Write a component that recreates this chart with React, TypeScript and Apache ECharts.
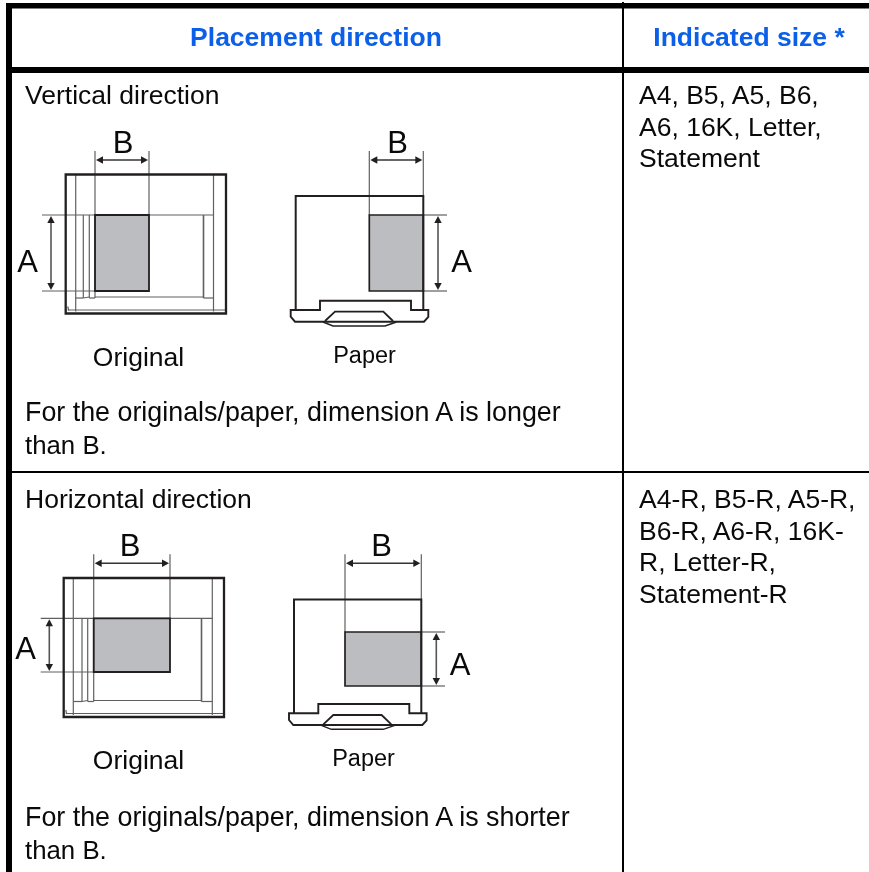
import React, { useEffect, useRef } from "react";
import * as echarts from "echarts";

const headers = ["Placement direction", "Indicated size *"];
const directionTitles = ["Vertical direction", "Horizontal direction"];
const noteLines = [
  ["For the originals/paper, dimension A is longer", "than B."],
  ["For the originals/paper, dimension A is shorter", "than B."],
];
const sizeLines = [
  ["A4, B5, A5, B6,", "A6, 16K, Letter,", "Statement"],
  ["A4-R, B5-R, A5-R,", "B6-R, A6-R, 16K-", "R, Letter-R,", "Statement-R"],
];
const figureLabels = ["Original", "Paper"];

const INK = "#231f20";
const THIN = "#5f6062";
const GREY = "#bcbdc0";
const FONT = "Liberation Sans";
const BODY = 26.5;
const NOTE = 26.85;
const NOTE_END = 25.8;
const LETTER = 31;

const line = (x1: number, y1: number, x2: number, y2: number, stroke = THIN, lineWidth = 1.2) => ({
  type: "line", silent: true,
  shape: { x1, y1, x2, y2 },
  style: { stroke, lineWidth, fill: "none" },
});
const rect = (x: number, y: number, width: number, height: number, fill: string, stroke?: string, lineWidth = 0) => ({
  type: "rect", silent: true,
  shape: { x, y, width, height },
  style: { fill, stroke: stroke || "none", lineWidth },
});
const poly = (points: number[][], stroke = INK, lineWidth = 1.7) => ({
  type: "polyline", silent: true,
  shape: { points },
  style: { stroke, lineWidth, fill: "none" },
});
const tri = (points: number[][]) => ({
  type: "polygon", silent: true, shape: { points }, style: { fill: INK, stroke: "none" },
});
const text = (t: string, x: number, y: number, size: number, opts: any = {}) => ({
  type: "text", silent: true, x, y,
  style: {
    text: t, fontFamily: FONT, fontSize: size,
    fontWeight: opts.bold ? "bold" : "normal",
    fill: opts.fill || "#0a0a0a",
    align: opts.align || "left", verticalAlign: "middle",
  },
});
const hArrow = (x1: number, x2: number, y: number) => [
  line(x1 + 3, y, x2 - 3, y, "#333333", 1.5),
  tri([[x1, y], [x1 + 7, y - 3.7], [x1 + 7, y + 3.7]]),
  tri([[x2, y], [x2 - 7, y - 3.7], [x2 - 7, y + 3.7]]),
];
const vArrow = (x: number, y1: number, y2: number) => [
  line(x, y1 + 3, x, y2 - 3, "#555555", 1.6),
  tri([[x, y1], [x - 3.7, y1 + 7], [x + 3.7, y1 + 7]]),
  tri([[x, y2], [x - 3.7, y2 - 7], [x + 3.7, y2 - 7]]),
];

function originalFigure(f: any) {
  const { l, r, t, b, gl, gr, gt, gb, ax, extLeft, rails, railR, inner, lineTop, arrowY, inL, inR, inB, aX, aY, bX, bY } = f;
  return [
    rect(gl, gt, gr - gl, gb - gt, GREY),
    line(inL, t, inL, b - 2),
    line(inR, t, inR, b - 2),
    line(l + 2, inB, r, inB),
    line(l + 2, b - 7, l + 3, b - 3),
    line(extLeft, gt, inR, gt),
    line(extLeft, gb, gl, gb),
    line(gl, lineTop, gl, gt),
    line(gr, lineTop, gr, gt),
    ...rails.map((x: number) => line(x, gt, x, inner + 1)),
    line(gl, gt, gl, inner + 1),
    line(railR, gt, railR, inner + 1, THIN, 1.6),
    line(inL, inner + 1, rails[0], inner + 1),
    line(rails[0], inner + 1, rails[1], inner),
    line(rails[1], inner + 1, gl, inner + 1),
    line(gl, inner, railR, inner),
    line(railR, inner + 1, inR, inner + 1),
    rect(gl, gt, gr - gl, gb - gt, "none", INK, 1.8),
    rect(l, t, r - l, b - t, "none", INK, 2.3),
    ...hArrow(gl + 1, gr - 1, arrowY),
    ...vArrow(ax, gt + 1, gb - 1),
    text("A", aX, aY, LETTER, { align: "center" }),
    text("B", bX, bY, LETTER, { align: "center" }),
  ];
}

function paperFigure(f: any) {
  const { l, r, t, gl, gt, gb, lineTop, arrowY, ax, extRight, aX, aY, bX, bY, dy, dx } = f;
  const tx = (x: number) => x + dx;
  const ty = (y: number) => y + dy;
  return [
    rect(gl, gt, r - gl, gb - gt, GREY),
    line(gl, lineTop, gl, gt),
    line(r, lineTop, r, t),
    line(r, gt, extRight, gt),
    line(r, gb, extRight, gb),
    rect(gl, gt, r - gl, gb - gt, "none", INK, 1.7),
    poly([[l, ty(310)], [l, t], [r, t], [r, ty(310)]], INK, 2),
    poly([
      [tx(295.7), ty(310)], [tx(290.7), ty(310)], [tx(290.7), ty(316.7)], [tx(295), ty(321.7)],
      [tx(424), ty(321.7)], [tx(428.3), ty(317)], [tx(428.3), ty(310)], [tx(411), ty(310)],
      [tx(411), ty(300.7)], [tx(320), ty(300.7)], [tx(320), ty(310)], [tx(295.7), ty(310)],
    ], INK, 1.9),
    poly([[tx(325), ty(321)], [tx(335), ty(311.7)], [tx(383.3), ty(311.7)], [tx(393), ty(321)]], INK, 1.8),
    poly([[tx(323), ty(322)], [tx(333), ty(326)], [tx(385), ty(326)], [tx(396.5), ty(322)]], INK, 1.4),
    ...hArrow(gl + 1, r - 1, arrowY),
    ...vArrow(ax, gt + 1, gb - 1),
    text("A", aX, aY, LETTER, { align: "center" }),
    text("B", bX, bY, LETTER, { align: "center" }),
  ];
}

export default function App() {
  const ref = useRef<HTMLDivElement>(null);
  useEffect(() => {
    const chart = echarts.init(ref.current!, undefined, { renderer: "svg" });
    const elements: any[] = [
      rect(0, 0, 869, 872, "#ffffff"),
      // table rules
      rect(6, 3, 863, 5.6, "#000000"),
      rect(6, 3, 6, 869, "#000000"),
      rect(6, 67, 863, 6, "#000000"),
      rect(622, 2, 2, 870, "#000000"),
      rect(12, 471, 857, 2, "#000000"),
      // headers
      text(headers[0], 316, 36.5, BODY, { bold: true, fill: "#0b5fe8", align: "center" }),
      text(headers[1], 749, 36.5, BODY, { bold: true, fill: "#0b5fe8", align: "center" }),
      // row 1
      text(directionTitles[0], 25, 94.5, BODY),
      ...originalFigure({
        l: 65.7, r: 226, t: 174.5, b: 313.5, gl: 95, gr: 149, gt: 215, gb: 291,
        ax: 51, extLeft: 42, rails: [83.3, 89.3], railR: 203.5, inner: 297, lineTop: 151, arrowY: 160,
        inL: 75.7, inR: 213.5, inB: 310, aX: 27.5, aY: 261, bX: 123, bY: 142,
      }),
      ...paperFigure({
        l: 295.7, r: 423.3, t: 196, gl: 369.3, gt: 215, gb: 291, lineTop: 151, arrowY: 160,
        ax: 438, extRight: 447, aX: 461.7, aY: 261, bX: 397.7, bY: 142, dx: 0, dy: 0,
      }),
      text(figureLabels[0], 138.5, 356.5, BODY, { align: "center" }),
      text(figureLabels[1], 364.5, 354.5, 23.5, { align: "center" }),
      text(noteLines[0][0], 25, 411.5, NOTE),
      text(noteLines[0][1], 25, 444.5, NOTE_END),
      ...sizeLines[0].map((s, i) => text(s, 639, 95 + i * 31.5, BODY)),
      // row 2
      text(directionTitles[1], 25, 498.5, BODY),
      ...originalFigure({
        l: 63.7, r: 224, t: 578, b: 717, gl: 93.7, gr: 170, gt: 618.3, gb: 672,
        ax: 49.3, extLeft: 40.7, rails: [82, 87.7], railR: 201.5, inner: 700.5, lineTop: 554.3, arrowY: 563.3,
        inL: 73.3, inR: 212.3, inB: 713.5, aX: 25.7, aY: 648, bX: 130, bY: 545,
      }),
      ...paperFigure({
        l: 294, r: 421.3, t: 599.5, gl: 345, gt: 632, gb: 686, lineTop: 554.3, arrowY: 563.3,
        ax: 436.3, extRight: 445, aX: 460, aY: 664.5, bX: 381.7, bY: 545, dx: -1.7, dy: 403.3,
      }),
      text(figureLabels[0], 138.5, 759.5, BODY, { align: "center" }),
      text(figureLabels[1], 363.5, 757.5, 23.5, { align: "center" }),
      text(noteLines[1][0], 25, 816.5, NOTE),
      text(noteLines[1][1], 25, 849.5, NOTE_END),
      ...sizeLines[1].map((s, i) => text(s, 639, 499 + i * 31.5, BODY)),
    ];
    chart.setOption({ animation: false, graphic: { elements } });
    return () => chart.dispose();
  }, []);
  return <div ref={ref} style={{ position: "fixed", left: 0, top: 0, width: 869, height: 872 }} />;
}
